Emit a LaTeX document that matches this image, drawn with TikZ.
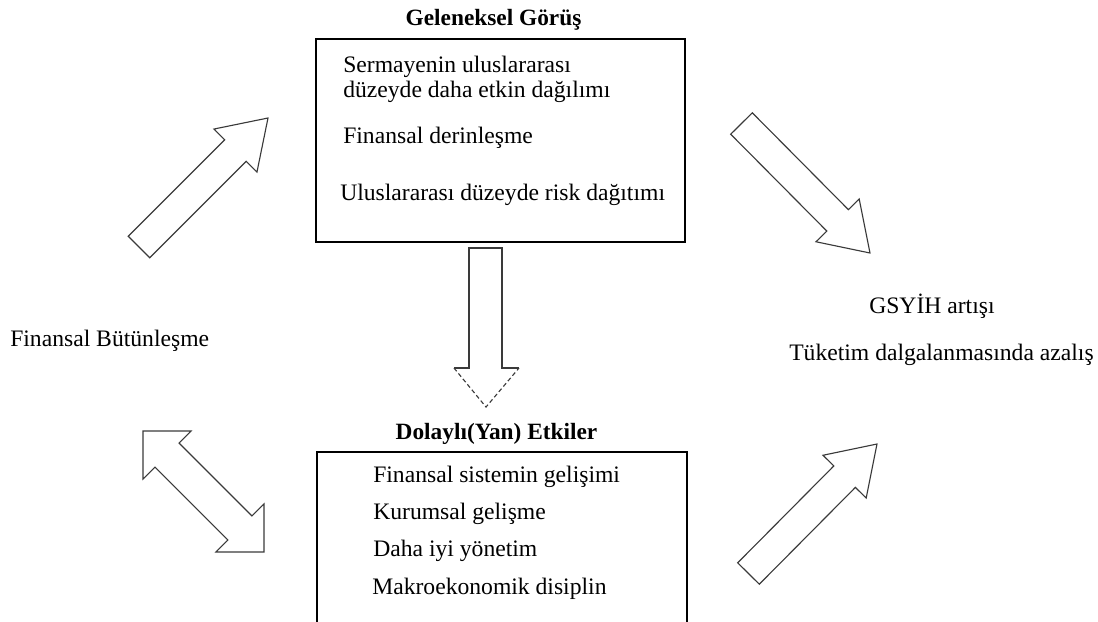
\documentclass[tikz,border=0pt]{standalone}
\usepackage{fontspec}
\setmainfont{Liberation Serif}
\usepackage{tikz}
\usepackage{xcolor}
\usetikzlibrary{calc}
\definecolor{colorOne}{HTML}{000000}
\definecolor{colorTwo}{HTML}{3A3A3A}
\definecolor{colorThree}{HTML}{FFFFFF}
\def\colorOne{colorOne}
\def\colorTwo{colorTwo}
\def\colorThree{colorThree}
\newcommand{\blockArrow}[5]{
	% #1=queue, #2=pointe, #3=demi-corps, #4=demi-tete, #5=longueur tete
	\coordinate (head) at ($(#2)!#5!(#1)$);
	\draw[arrowLine] ($(#1)!#3!90:(#2)$) -- ($(head)!#3!90:(#2)$) -- ($(head)!#4!90:(#2)$) -- (#2)
		-- ($(head)!#4!-90:(#2)$) -- ($(head)!#3!-90:(#2)$) -- ($(#1)!#3!-90:(#2)$) -- cycle;
}
\newcommand{\doubleBlockArrow}[5]{
	% #1,#2=pointes, #3=demi-corps, #4=demi-tete, #5=longueur tete
	\coordinate (headA) at ($(#1)!#5!(#2)$);
	\coordinate (headB) at ($(#2)!#5!(#1)$);
	\draw[arrowLine] (#1) -- ($(headA)!#4!90:(#2)$) -- ($(headA)!#3!90:(#2)$) -- ($(headB)!#3!-90:(#1)$)
		-- ($(headB)!#4!-90:(#1)$) -- (#2) -- ($(headB)!#4!90:(#1)$) -- ($(headB)!#3!90:(#1)$)
		-- ($(headA)!#3!-90:(#2)$) -- ($(headA)!#4!-90:(#2)$) -- cycle;
}
\tikzset{
	arrowLine/.style = {line width=0.8pt, color=\colorTwo, line join=miter},
	boxLine/.style = {line width=1pt, color=\colorOne},
	txt/.style = {draw = none , fill=none, inner sep=0pt, anchor=base west, \colorOne},
	titre/.style = {draw = none , fill=none, inner sep=0pt, anchor=base, \colorOne, font=\bfseries}
}

\begin{document}
\begin{tikzpicture}[x=0.025cm, y=-0.025cm]

	\useasboundingbox (0,0) rectangle (1098,621);
	\clip (0,0) rectangle (1098,621);

	% Cadre "Geleneksel Görüş"
	\node[titre] (titreGorus) at (493.5,25) {\fontsize{16.6pt}{18pt}\selectfont Geleneksel Görüş};
	\node[draw, boxLine, minimum width=9.225cm, minimum height=5.075cm] (gorus) at (500.5,140.5) {};
	\node[txt] (sermaye) at (343,72) {\fontsize{16.8pt}{18pt}\selectfont Sermayenin uluslararası};
	\node[txt] (dagilim) at (343,97) {\fontsize{16.8pt}{18pt}\selectfont düzeyde daha etkin dağılımı};
	\node[txt] (derin) at (343,143) {\fontsize{16.8pt}{18pt}\selectfont Finansal derinleşme};
	\node[txt] (risk) at (340,200) {\fontsize{16.8pt}{18pt}\selectfont Uluslararası düzeyde risk dağıtımı};

	% Cadre "Dolaylı(Yan) Etkiler" (coupé en bas)
	\node[titre] (titreYan) at (496.5,439) {\fontsize{16.6pt}{18pt}\selectfont Dolaylı(Yan) Etkiler};
	\node[draw, boxLine, minimum width=9.25cm, minimum height=4.4cm] (yan) at (502,540) {};
	\node[txt] (sistem) at (373,482) {\fontsize{16.8pt}{18pt}\selectfont Finansal sistemin gelişimi};
	\node[txt] (kurum) at (373,519) {\fontsize{16.8pt}{18pt}\selectfont Kurumsal gelişme};
	\node[txt] (yonetim) at (373,556) {\fontsize{16.8pt}{18pt}\selectfont Daha iyi yönetim};
	\node[txt] (makro) at (372,594) {\fontsize{16.8pt}{18pt}\selectfont Makroekonomik disiplin};

	% Textes de gauche et de droite
	\node[txt] (butunlesme) at (10,346) {\fontsize{16.8pt}{18pt}\selectfont Finansal Bütünleşme};
	\node[txt] (gsyih) at (869,313) {\fontsize{16.8pt}{18pt}\selectfont GSYİH artışı};
	\node[txt] (tuketim) at (789,360) {\fontsize{16.8pt}{18pt}\selectfont Tüketim dalgalanmasında azalış};

	% Points des fleches
	\coordinate (ulTail) at (139,247);
	\coordinate (ulTip) at (268,118);
	\coordinate (urTail) at (741.5,123.5);
	\coordinate (urTip) at (870,253);
	\coordinate (lrTail) at (748.5,573.5);
	\coordinate (lrTip) at (877,444);
	\coordinate (dblA) at (143,431);
	\coordinate (dblB) at (264,552);

	\blockArrow{ulTail}{ulTip}{0.38cm}{0.76cm}{1.15cm}
	\blockArrow{urTail}{urTip}{0.38cm}{0.76cm}{1.15cm}
	\blockArrow{lrTail}{lrTip}{0.38cm}{0.76cm}{1.15cm}
	\doubleBlockArrow{dblA}{dblB}{0.425cm}{0.85cm}{0.85cm}

	% Fleche vers le bas (tete en pointilles)
	\coordinate (downTip) at (486,407);
	\draw[arrowLine] (454,368) -- (469,368) -- (469,248) -- (502,248) -- (502,368) -- (519,368);
	\draw[arrowLine, densely dashed] (454,368) -- (downTip) -- (519,368);

\end{tikzpicture}
\end{document}
